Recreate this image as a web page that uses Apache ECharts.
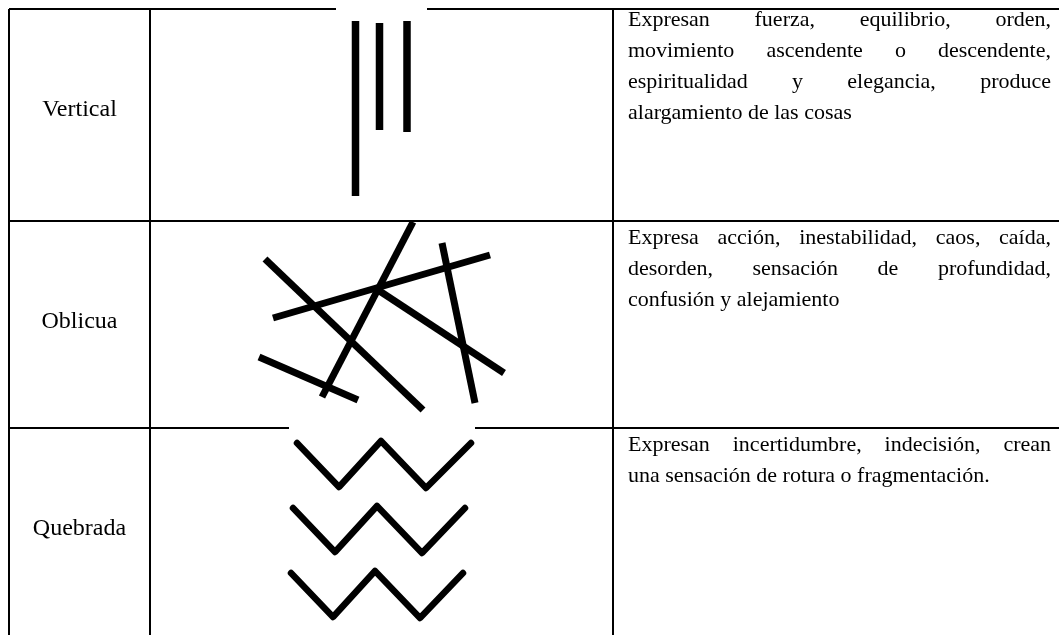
<!DOCTYPE html>
<html>
<head>
<meta charset="utf-8">
<script src="https://cdn.jsdelivr.net/npm/echarts@6/dist/echarts.min.js"></script>
<style>
  html, body { margin: 0; padding: 0; background: #fff; }
  #chart { width: 1059px; height: 635px; }
</style>
</head>
<body>
<div id="chart"></div>
<script>
// table grid (page pixels)
var colEdges = [9, 150, 613];
var rowEdges = [9, 221, 428];
var tableRight = 1059;
var tableBottom = 635;

var rowLabels = ["Vertical", "Oblicua", "Quebrada"];
var rowLabelY = [110, 322, 529];

var descLines = [
  ["Expresan fuerza, equilibrio, orden,", "movimiento ascendente o descendente,", "espiritualidad y elegancia, produce", "alargamiento de las cosas"],
  ["Expresa acción, inestabilidad, caos, caída,", "desorden, sensación de profundidad,", "confusión y alejamiento"],
  ["Expresan incertidumbre, indecisión, crean", "una sensación de rotura o fragmentación."]
];
var descFirstY = [20, 238, 445];

// white backgrounds of the pictures, they hide part of the borders
var imageBoxes = [[336, 5, 427, 14], [289, 424, 475, 432]];

var verticalBars = [
  [[355.5, 21], [355.5, 196]],
  [[379.5, 23], [379.5, 130]],
  [[407, 21], [407, 132]]
];

var obliqueLines = [
  [[265, 259], [423, 410]],
  [[273, 318], [490, 255]],
  [[413, 222], [322, 397]],
  [[378, 290], [504, 373]],
  [[442, 243], [475, 403]],
  [[259, 357], [358, 400]]
];

var zigzags = [
  [[297, 443], [339, 487], [381, 441], [426, 488], [471, 443]],
  [[293, 508], [335, 552], [377, 506], [422, 553], [465, 508]],
  [[291, 573], [333, 617], [375, 571], [420, 618], [463, 573]]
];

var family = '"Liberation Serif", "Times New Roman", serif';
var labelFont = "24px " + family;
var descFont = "22px " + family;
var textLeft = 628;
var textRight = 1051;
var lineHeight = 31;

// border segments
var borderSegs = [];
colEdges.forEach(function (x) {
  borderSegs.push([x, rowEdges[0], x, tableBottom]);
});
rowEdges.forEach(function (y) {
  borderSegs.push([colEdges[0], y, tableRight, y]);
});

// justified text: every line but the last one of a cell is stretched
var ctx = document.createElement("canvas").getContext("2d");
ctx.font = descFont;
var wordData = [];
var wordText = [];
descLines.forEach(function (lines, r) {
  lines.forEach(function (line, i) {
    var y = descFirstY[r] + i * lineHeight;
    var words = line.split(" ");
    var widths = words.map(function (w) { return ctx.measureText(w).width; });
    var gap = ctx.measureText(" ").width;
    if (i < lines.length - 1 && words.length > 1) {
      var total = widths.reduce(function (a, b) { return a + b; }, 0);
      gap = (textRight - textLeft - total) / (words.length - 1);
    }
    var x = textLeft;
    words.forEach(function (w, k) {
      wordData.push([x, y]);
      wordText.push({ text: w, align: "left", font: descFont });
      x += widths[k] + gap;
    });
  });
});
rowLabels.forEach(function (label, r) {
  wordData.push([(colEdges[0] + colEdges[1]) / 2, rowLabelY[r]]);
  wordText.push({ text: label, align: "center", font: labelFont });
});

var series = [];

series.push({
  type: "custom",
  z: 1,
  silent: true,
  data: borderSegs,
  renderItem: function (params, api) {
    var a = api.coord([api.value(0), api.value(1)]);
    var b = api.coord([api.value(2), api.value(3)]);
    return {
      type: "line",
      shape: { x1: a[0], y1: a[1], x2: b[0], y2: b[1] },
      style: { stroke: "#000", lineWidth: 2 }
    };
  }
});

series.push({
  type: "custom",
  z: 2,
  silent: true,
  data: imageBoxes,
  renderItem: function (params, api) {
    var a = api.coord([api.value(0), api.value(1)]);
    var b = api.coord([api.value(2), api.value(3)]);
    return {
      type: "rect",
      shape: { x: a[0], y: a[1], width: b[0] - a[0], height: b[1] - a[1] },
      style: { fill: "#fff" }
    };
  }
});

verticalBars.forEach(function (d) {
  series.push({
    type: "line", z: 3, data: d, symbol: "none", silent: true,
    lineStyle: { color: "#000", width: 7.5, cap: "butt" }
  });
});
obliqueLines.forEach(function (d) {
  series.push({
    type: "line", z: 3, data: d, symbol: "none", silent: true,
    lineStyle: { color: "#000", width: 7, cap: "butt" }
  });
});
zigzags.forEach(function (d) {
  series.push({
    type: "line", z: 3, data: d, symbol: "none", silent: true,
    lineStyle: { color: "#000", width: 6.5, cap: "round", join: "round" }
  });
});

series.push({
  type: "custom",
  z: 4,
  silent: true,
  data: wordData,
  renderItem: function (params, api) {
    var p = api.coord([api.value(0), api.value(1)]);
    var t = wordText[params.dataIndex];
    return {
      type: "text",
      x: p[0],
      y: p[1],
      style: {
        text: t.text,
        font: t.font,
        fill: "#000",
        align: t.align,
        verticalAlign: "middle"
      }
    };
  }
});

var chart = echarts.init(document.getElementById("chart"));
chart.setOption({
  animation: false,
  backgroundColor: "#fff",
  grid: { left: 0, right: 0, top: 0, bottom: 0 },
  xAxis: { type: "value", min: 0, max: tableRight, show: false },
  yAxis: { type: "value", min: 0, max: tableBottom, inverse: true, show: false },
  series: series
});
</script>
</body>
</html>
